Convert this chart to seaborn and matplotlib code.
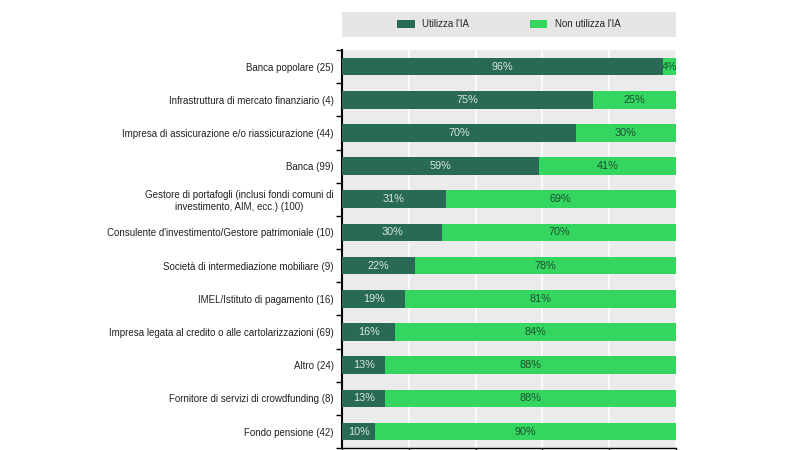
import seaborn as sns
import matplotlib.pyplot as plt
import pandas as pd
import numpy as np

# categories (top to bottom) and shares
categories = [
    "Banca popolare (25)",
    "Infrastruttura di mercato finanziario (4)",
    "Impresa di assicurazione e/o riassicurazione (44)",
    "Banca (99)",
    "Gestore di portafogli (inclusi fondi comuni di\ninvestimento, AIM, ecc.) (100)",
    "Consulente d'investimento/Gestore patrimoniale (10)",
    "Società di intermediazione mobiliare (9)",
    "IMEL/Istituto di pagamento (16)",
    "Impresa legata al credito o alle cartolarizzazioni (69)",
    "Altro (24)",
    "Fornitore di servizi di crowdfunding (8)",
    "Fondo pensione (42)",
]
utilizza = [96, 75, 70, 59, 31, 30, 22, 19, 16, 13, 13, 10]
non_utilizza = [4, 25, 30, 41, 69, 70, 78, 81, 84, 88, 88, 90]

dark = "#286a53"
light = "#35d65f"

df = pd.DataFrame({"cat": categories, "uso": utilizza, "non": non_utilizza})
df["tot"] = df["uso"] + df["non"]

sns.set_theme(style="white")
plt.rcParams["font.family"] = ["Liberation Sans", "DejaVu Sans"]

fig, ax = plt.subplots(figsize=(8, 4.5), dpi=100)
fig.subplots_adjust(left=0.4275, right=0.845, top=0.889, bottom=0.004)

ax.set_facecolor("#ebebeb")
sns.barplot(data=df, x="tot", y="cat", color=light, width=0.53, linewidth=0,
            saturation=1, ax=ax, label="Non utilizza l'IA", zorder=3)
sns.barplot(data=df, x="uso", y="cat", color=dark, width=0.53, linewidth=0,
            saturation=1, ax=ax, label="Utilizza l'IA", zorder=3)

ax.set_xlim(0, 100)
ax.set_ylim(len(categories) - 0.5, -0.5)
ax.set_xticks([0, 20, 40, 60, 80, 100])
ax.xaxis.grid(True, color="white", linewidth=1.2, zorder=0)
ax.set_axisbelow(True)
ax.tick_params(axis="x", direction="out", length=4, width=1, color="black",
               bottom=True, labelbottom=False)
ax.tick_params(axis="y", which="major", length=0, labelsize=7, pad=6, colors="#222222")
ax.set_yticks(np.arange(-0.5, len(categories), 1), minor=True)
ax.tick_params(axis="y", which="minor", length=4, width=1, color="black", left=True)
for lab in ax.get_yticklabels():
    lab.set_multialignment("center")
ax.set_xlabel("")
ax.set_ylabel("")
for s in ["top", "right"]:
    ax.spines[s].set_visible(False)
ax.spines["left"].set_color("black")
ax.spines["left"].set_linewidth(1.5)
ax.spines["bottom"].set_color("black")
ax.spines["bottom"].set_linewidth(1)

for i, (u, n) in enumerate(zip(utilizza, non_utilizza)):
    ax.text(u / 2, i, f"{u}%", ha="center", va="center", fontsize=7.8,
            color="#d9e6df", zorder=5)
    ax.text(u + min(n, 100 - u) / 2, i, f"{n}%", ha="center", va="center",
            fontsize=7.8, color="#1d4f32", zorder=5)

handles, labels = ax.get_legend_handles_labels()
order = [labels.index("Utilizza l'IA"), labels.index("Non utilizza l'IA")]
leg = ax.legend([handles[k] for k in order], [labels[k] for k in order],
                loc="center", bbox_to_anchor=(0, 1.033, 1, 0.062),
                ncol=2, frameon=False, fontsize=7, handlelength=1.8,
                handleheight=0.8, columnspacing=6.2, handletextpad=0.8)
# gray band behind legend
band = plt.Rectangle((0, 1.033), 1, 0.062, transform=ax.transAxes,
                     facecolor="#e6e6e6", edgecolor="none", clip_on=False, zorder=0)
ax.add_patch(band)

fig.savefig("out.png", dpi=100)
